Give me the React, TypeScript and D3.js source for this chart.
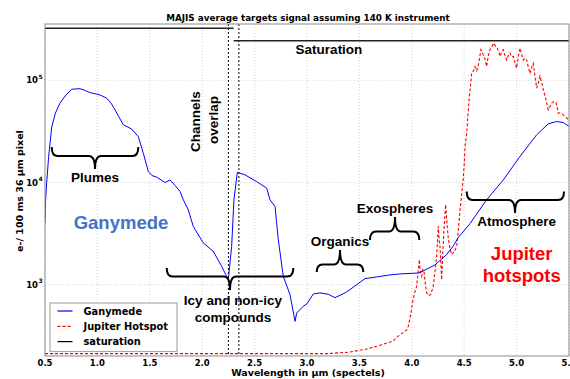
import React from 'react';
import * as d3 from 'd3';

const ganymedeWl = [0.5, 0.505, 0.516, 0.535, 0.564, 0.6, 0.643, 0.7, 0.755, 0.834, 0.88, 0.929, 0.993, 1.04, 1.089, 1.13, 1.168, 1.21, 1.247, 1.327, 1.39, 1.438, 1.486, 1.52, 1.566, 1.645, 1.693, 1.74, 1.788, 1.82, 1.867, 1.915, 2.01, 2.106, 2.186, 2.249, 2.281, 2.303, 2.335, 2.408, 2.52, 2.615, 2.647, 2.695, 2.726, 2.774, 2.838, 2.886, 2.902, 2.965, 3.0, 3.06, 3.124, 3.203, 3.267, 3.363, 3.41, 3.474, 3.553, 3.665, 3.792, 3.887, 4.062, 4.1, 4.221, 4.333, 4.396, 4.444, 4.555, 4.714, 4.873, 5.032, 5.192, 5.302, 5.383, 5.446, 5.5];
const ganymedeSignal = [4000, 6500, 9950, 18000, 35000, 48000, 60000, 72000, 82000, 83000, 80000, 76000, 73500, 71000, 67000, 60000, 51500, 43000, 36800, 33400, 28200, 19400, 12800, 11700, 11300, 10000, 10600, 9400, 8180, 6770, 5400, 3720, 2560, 2120, 1510, 1120, 2370, 6780, 12600, 11900, 10200, 8830, 6770, 5830, 2760, 1200, 798, 437, 528, 614, 650, 810, 830, 805, 745, 830, 894, 1000, 1145, 1190, 1245, 1273, 1300, 1350, 1560, 1970, 2400, 2900, 3950, 6780, 10600, 18000, 29400, 37600, 39600, 38700, 35500];

const hotspotWl = [0.5, 3.19, 3.4, 3.544, 3.665, 3.82, 3.856, 3.954, 3.967, 3.992, 4.011, 4.03, 4.046, 4.06, 4.072, 4.082, 4.094, 4.105, 4.117, 4.13, 4.142, 4.16, 4.18, 4.205, 4.22, 4.237, 4.253, 4.262, 4.269, 4.285, 4.295, 4.307, 4.323, 4.335, 4.348, 4.365, 4.381, 4.405, 4.428, 4.445, 4.46, 4.475, 4.49, 4.5, 4.508, 4.524, 4.535, 4.549, 4.571, 4.59, 4.603, 4.62, 4.635, 4.66, 4.682, 4.7, 4.714, 4.73, 4.746, 4.765, 4.784, 4.8, 4.816, 4.83, 4.842, 4.858, 4.873, 4.89, 4.905, 4.92, 4.937, 4.952, 4.968, 4.985, 5.0, 5.016, 5.032, 5.048, 5.064, 5.08, 5.096, 5.112, 5.128, 5.144, 5.159, 5.175, 5.192, 5.207, 5.223, 5.24, 5.255, 5.28, 5.302, 5.32, 5.335, 5.355, 5.376, 5.398, 5.42, 5.446, 5.47, 5.494, 5.5];
const hotspotSignal = [211, 211, 218, 231, 249, 280, 305, 363, 391, 532, 712, 850, 962, 1300, 1757, 1300, 1205, 1400, 1350, 1000, 830, 780, 798, 962, 1300, 1890, 3720, 2700, 2370, 1120, 2000, 3450, 6070, 4000, 2860, 2200, 1970, 2100, 2370, 3500, 5420, 7500, 10600, 15000, 22600, 30500, 45000, 69500, 117000, 125000, 137000, 125000, 142000, 200000, 178000, 160000, 137000, 175000, 200000, 215000, 232000, 215000, 207000, 190000, 172000, 190000, 200000, 175000, 158000, 175000, 185000, 170000, 172000, 150000, 132000, 170000, 207000, 180000, 158000, 165000, 158000, 135000, 117000, 135000, 147000, 110000, 84000, 95000, 110000, 95000, 80800, 65000, 51500, 56000, 60000, 62000, 60800, 47900, 48000, 46000, 44000, 41100, 40500];

const saturationWl1 = [0.5, 2.3];
const saturationLevel1 = 324000;
const saturationWl2 = [2.3, 5.5];
const saturationLevel2 = 245000;
const overlapLines = [2.25, 2.35];

const xTicks = [0.5, 1.0, 1.5, 2.0, 2.5, 3.0, 3.5, 4.0, 4.5, 5.0, 5.5];
const yTickExps = [3, 4, 5];

const legendLabels = ['Ganymede', 'Jupiter Hotspot', 'saturation'];

const W = 570;
const H = 379;
const L = 45, R = 569, T = 24, B = 356;

const tickFont = 'DejaVu Sans, sans-serif';
const annFont = 'Liberation Sans, Arial, sans-serif';

function brace(x1: number, x2: number, xm: number, y0: number, yb: number, yt: number) {
  const r = 6;
  return `M${x1},${y0} Q${x1},${yb} ${x1 + r},${yb} L${xm - r},${yb} Q${xm},${yb} ${xm},${yt} M${xm},${yt} Q${xm},${yb} ${xm + r},${yb} L${x2 - r},${yb} Q${x2},${yb} ${x2},${y0}`;
}

export default function App() {
  const x = d3.scaleLinear().domain([0.5, 5.5]).range([L, R]);
  const y = d3.scaleLog().domain([200, 357000]).range([B, T]);

  const line = d3.line<[number, number]>().x(d => x(d[0])).y(d => y(d[1]));
  const gan = line(ganymedeWl.map((w, i) => [w, ganymedeSignal[i]] as [number, number])) || '';
  const hot = line(hotspotWl.map((w, i) => [w, hotspotSignal[i]] as [number, number])) || '';

  return (
    <svg width={W} height={H} style={{ position: 'absolute', left: 0, top: 0, background: '#fff' }}>
      <rect x={0} y={0} width={W} height={H} fill="#fff" />
      <text x={308} y={21} textAnchor="middle" fontFamily={tickFont} fontWeight="bold" fontSize={8.8}>MAJIS average targets signal assuming 140 K instrument</text>
      <defs>
        <clipPath id="plot"><rect x={L} y={T} width={R - L} height={B - T} /></clipPath>
      </defs>
      {xTicks.map(t => (
        <line key={'gx' + t} x1={x(t)} x2={x(t)} y1={T} y2={B} stroke="#c8c8c8" strokeWidth={0.8} strokeDasharray="1,2" />
      ))}
      {yTickExps.map(e => (
        <line key={'gy' + e} x1={L} x2={R} y1={y(Math.pow(10, e))} y2={y(Math.pow(10, e))} stroke="#c8c8c8" strokeWidth={0.8} strokeDasharray="1,2" />
      ))}
      <g clipPath="url(#plot)">
        <path d={hot} fill="none" stroke="#ff0000" strokeWidth={1.1} strokeDasharray="3,2" />
        <path d={gan} fill="none" stroke="#0000ff" strokeWidth={1} />
        {overlapLines.map(v => (
          <line key={'ov' + v} x1={x(v)} x2={x(v)} y1={T} y2={B} stroke="#000" strokeWidth={1} strokeDasharray="2,2" />
        ))}
        <line x1={x(saturationWl1[0])} x2={x(saturationWl1[1])} y1={y(saturationLevel1)} y2={y(saturationLevel1)} stroke="#222" strokeWidth={1.5} />
        <line x1={x(saturationWl2[0])} x2={x(saturationWl2[1])} y1={y(saturationLevel2)} y2={y(saturationLevel2)} stroke="#222" strokeWidth={1.5} />
      </g>
      <rect x={L} y={T} width={R - L} height={B - T} fill="none" stroke="#8c8c8c" strokeWidth={1} />
      {xTicks.map(t => (
        <text key={'xt' + t} x={x(t)} y={B + 10} textAnchor="middle" fontFamily={tickFont} fontWeight="bold" fontSize={8.5}>{t.toFixed(1)}</text>
      ))}
      {yTickExps.map(e => (
        <text key={'yt' + e} x={38} y={y(Math.pow(10, e)) + 3} textAnchor="end" fontFamily={tickFont} fontWeight="bold" fontSize={8.5}>
          10
        </text>
      ))}
      {yTickExps.map(e => (
        <text key={'ye' + e} x={38.5} y={y(Math.pow(10, e)) - 1.5} fontFamily={tickFont} fontWeight="bold" fontSize={6}>{e}</text>
      ))}
      <text x={308} y={376} textAnchor="middle" fontFamily={tickFont} fontWeight="bold" fontSize={9.5}>Wavelength in μm (spectels)</text>
      <text transform="translate(23,191) rotate(-90)" textAnchor="middle" fontFamily={tickFont} fontWeight="bold" fontSize={9.5}>e-/ 100 ms 36 μm pixel</text>

      <g fill="none" stroke="#000" strokeWidth={2}>
        <path d={brace(51.7, 138.3, 95, 147, 156, 169)} />
        <path d={brace(166.7, 293.3, 230, 268, 276.5, 290)} />
        <path d={brace(316.7, 363.3, 340, 272, 264.5, 250)} />
        <path d={brace(370, 419.3, 395, 240, 231.5, 217)} />
        <path d={brace(466.7, 564, 515, 191.5, 200, 213)} />
      </g>
      <g fontFamily={annFont} fontWeight="bold" fontSize={13.5} textAnchor="middle" fill="#000">
        <text x={95} y={182}>Plumes</text>
        <text transform="translate(200,121.7) rotate(-90)">Channels</text>
        <text transform="translate(218,120) rotate(-90)">overlap</text>
        <text x={233} y={305}>Icy and non-icy</text>
        <text x={233} y={322}>compounds</text>
        <text x={340} y={246}>Organics</text>
        <text x={395} y={212.5}>Exospheres</text>
        <text x={516.7} y={225.5}>Atmosphere</text>
        <text x={329} y={54}>Saturation</text>
      </g>
      <text x={121} y={229} textAnchor="middle" fontFamily={annFont} fontWeight="bold" fontSize={18.5} fill="#4472c4">Ganymede</text>
      <g fontFamily={annFont} fontWeight="bold" fontSize={18.5} textAnchor="middle" fill="#ff0000">
        <text x={521.7} y={260}>Jupiter</text>
        <text x={521.7} y={281.5}>hotspots</text>
      </g>

      <rect x={50} y={303} width={127} height={48.5} fill="#fff" stroke="#aaa" strokeWidth={1.2} />
      {legendLabels.map((lab, i) => {
        const ly = 311 + i * 15.3;
        const stroke = i === 0 ? '#0000ff' : i === 1 ? '#ff0000' : '#000';
        return (
          <g key={lab}>
            <line x1={57.5} x2={72.5} y1={ly} y2={ly} stroke={stroke} strokeWidth={1.2} strokeDasharray={i === 1 ? '3,2' : undefined} />
            <text x={83.5} y={ly + 3.5} fontFamily={tickFont} fontWeight="bold" fontSize={9.8}>{lab}</text>
          </g>
        );
      })}
    </svg>
  );
}
